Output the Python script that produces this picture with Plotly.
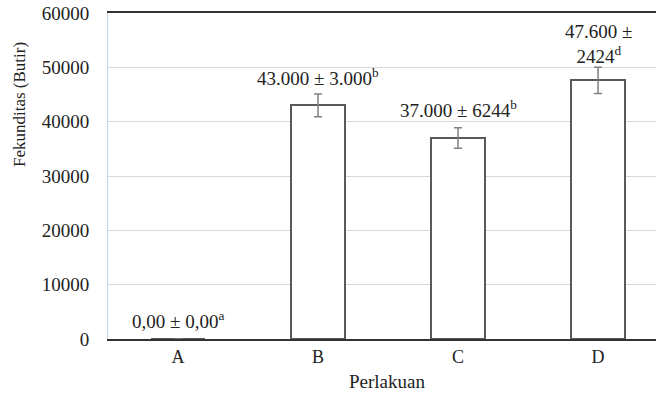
import plotly.graph_objects as go

categories = ["A", "B", "C", "D"]
values = [0, 43000, 37000, 47600]
errors = [0, 2100, 1900, 2400]
labels = ["0,00 ± 0,00<sup>a</sup>", "43.000 ± 3.000<sup>b</sup>",
          "37.000 ± 6244<sup>b</sup>", "47.600 ±<br>2424<sup>d</sup>"]
label_y = [850, 45700, 39700, 49700]
y_ticks = [0, 10000, 20000, 30000, 40000, 50000, 60000]

FONT = "Liberation Serif"

fig = go.Figure()
fig.add_trace(go.Bar(
    x=categories, y=values, width=0.386,
    marker=dict(color="white", line=dict(color="#595959", width=2)),
    error_y=dict(type="data", array=errors, visible=True, color="#808080",
                 thickness=1.5, width=4),
    showlegend=False,
))
for c, t, ly in zip(categories, labels, label_y):
    fig.add_annotation(x=c, y=ly, text=t, showarrow=False, xref="x", yref="y",
                       font=dict(family=FONT, size=19, color="#222"),
                       yanchor="bottom")

fig.add_annotation(x=(20 - 108) / 548, y=1 - (105 - 13) / 326, xref="paper", yref="paper",
                   text="Fekunditas (Butir)", textangle=-90, showarrow=False,
                   xanchor="center", yanchor="middle",
                   font=dict(family=FONT, size=17, color="#222"))
fig.add_annotation(x=(387 - 108) / 548, y=-(382 - 339) / 326, xref="paper", yref="paper",
                   text="Perlakuan", showarrow=False, xanchor="center", yanchor="middle",
                   font=dict(family=FONT, size=19, color="#222"))

fig.update_layout(
    width=656, height=394,
    margin=dict(l=108, r=0, t=13, b=55, autoexpand=False),
    paper_bgcolor="white", plot_bgcolor="white",
    font=dict(family=FONT, size=19, color="#222"),
    bargap=0,
    xaxis=dict(range=[-0.5, 3.414], showline=True, linecolor="#333", linewidth=2,
               mirror=True, showgrid=False, ticks="", tickfont=dict(family=FONT, size=18),
               automargin=False, fixedrange=True),
    yaxis=dict(range=[0, 60000], tickvals=y_ticks, tickformat="d", showgrid=True,
               gridcolor="#d9d9d9", gridwidth=1, showline=True, linecolor="#bdd7ee",
               linewidth=1, ticks="", ticklabelstandoff=14,
               tickfont=dict(family=FONT, size=19), zeroline=False, automargin=False),
)
fig.write_html("out.html", config={"displayModeBar": False},
               post_script="document.body.style.margin='0';")
